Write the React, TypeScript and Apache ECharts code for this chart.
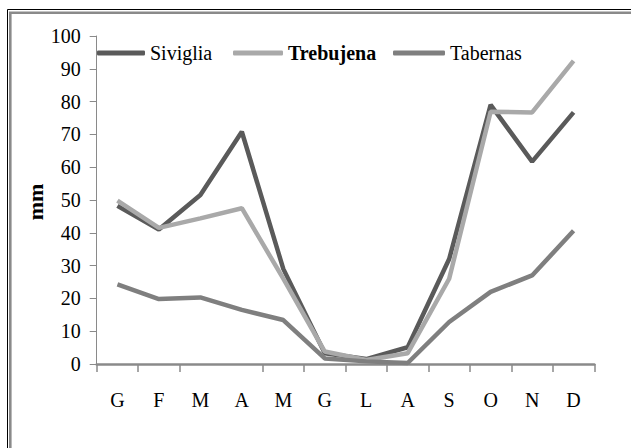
import React, { useEffect, useRef } from "react";
import * as echarts from "echarts";

const months = ["G", "F", "M", "A", "M", "G", "L", "A", "S", "O", "N", "D"];
const siviglia = [48.2, 41, 51.5, 70.8, 29, 3.3, 1.5, 5.1, 32, 79, 61.7, 76.7];
const trebujena = [49.8, 41.5, 44.4, 47.5, 26, 3.8, 1.2, 3.3, 26, 76.9, 76.7, 92.4];
const tabernas = [24.3, 19.8, 20.3, 16.5, 13.4, 1.7, 0.8, 0.3, 12.8, 22, 27, 40.6];
const yTicks = { min: 0, max: 100, interval: 10 };

const FONT = "'Liberation Serif', 'Times New Roman', serif";
const C_SIV = "#5a5a5a";
const C_TRE = "#a9a9a9";
const C_TAB = "#7f7f7f";
const AXIS = "#8a8a8a";

export default function App() {
  const ref = useRef<HTMLDivElement>(null);
  useEffect(() => {
    if (!ref.current) return;
    const chart = echarts.init(ref.current, null, { renderer: "svg" });
    const legendBase = {
      top: 43,
      itemHeight: 5,
      icon: "roundRect",
      selectedMode: false,
      padding: 0,
      textStyle: { fontFamily: FONT, fontSize: 20, color: "#000" },
    };
    chart.setOption({
      animation: false,
      backgroundColor: "#fff",
      grid: { left: 96.7, right: 36.7, top: 36, bottom: 84, containLabel: false },
      legend: [
        { ...legendBase, left: 97, itemWidth: 48, data: ["Siviglia"] },
        {
          ...legendBase,
          left: 233,
          itemWidth: 50,
          data: [{ name: "Trebujena", textStyle: { fontWeight: "bold" } }],
        },
        { ...legendBase, left: 393, itemWidth: 52, data: ["Tabernas"] },
      ],
      xAxis: {
        type: "category",
        data: months,
        boundaryGap: true,
        axisLine: { show: true, lineStyle: { color: AXIS, width: 2.5 } },
        axisTick: {
          show: true,
          length: 8,
          lineStyle: { color: AXIS, width: 1.5 },
          interval: (i: number) => i !== 3,
        },
        axisLabel: { fontFamily: FONT, fontSize: 20, color: "#000", margin: 26 },
        splitLine: { show: false },
      },
      yAxis: {
        type: "value",
        min: yTicks.min,
        max: yTicks.max,
        interval: yTicks.interval,
        axisLine: { show: true, lineStyle: { color: AXIS, width: 1 } },
        axisTick: { show: true, length: 7, lineStyle: { color: AXIS, width: 1 } },
        axisLabel: { fontFamily: FONT, fontSize: 20, color: "#000", margin: 16 },
        splitLine: { show: false },
      },
      graphic: [
        {
          type: "rect",
          shape: { x: 7.5, y: 9.5, width: 800, height: 600 },
          style: { fill: "none", stroke: "#000", lineWidth: 1 },
          silent: true,
        },
        {
          type: "rect",
          shape: { x: 10.3, y: 12.8, width: 800, height: 600 },
          style: { fill: "none", stroke: "#8a8a8a", lineWidth: 2.6 },
          silent: true,
        },
        {
          type: "text",
          x: 35,
          y: 202,
          rotation: Math.PI / 2,
          style: {
            text: "mm",
            fontFamily: FONT,
            fontSize: 22,
            fontWeight: "bold",
            fill: "#000",
            align: "center",
            verticalAlign: "middle",
          },
          silent: true,
        },
      ],
      series: [
        {
          name: "Siviglia",
          type: "line",
          data: siviglia,
          symbol: "none",
          lineStyle: { color: C_SIV, width: 4.5 },
          itemStyle: { color: C_SIV },
        },
        {
          name: "Trebujena",
          type: "line",
          data: trebujena,
          symbol: "none",
          lineStyle: { color: C_TRE, width: 4.5 },
          itemStyle: { color: C_TRE },
        },
        {
          name: "Tabernas",
          type: "line",
          data: tabernas,
          symbol: "none",
          lineStyle: { color: C_TAB, width: 4.5 },
          itemStyle: { color: C_TAB },
        },
      ],
    });
    return () => chart.dispose();
  }, []);
  return (
    <div
      ref={ref}
      style={{ position: "absolute", left: 0, top: 0, width: 631, height: 448 }}
    />
  );
}
